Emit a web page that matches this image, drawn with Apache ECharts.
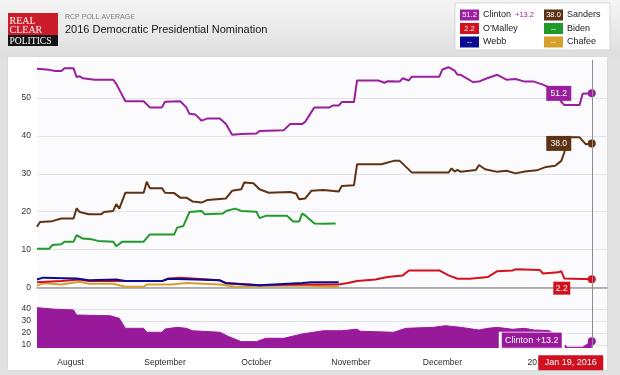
<!DOCTYPE html>
<html>
<head>
<meta charset="utf-8">
<script src="https://cdn.jsdelivr.net/npm/echarts@6/dist/echarts.min.js"></script>
<style>
  html, body { margin: 0; padding: 0; background: #e1e1e1; }
  #wrap { position: relative; width: 620px; height: 375px; overflow: hidden; }
  #head { position: absolute; left: 0; top: 0; width: 620px; height: 57px;
          background: linear-gradient(#f5f5f5, #dedede); }
  #panel { position: absolute; left: 8px; top: 57px; width: 599px; height: 313px;
           background: #fff; box-shadow: 0 0 1px #bbb; }
  #chart { position: absolute; left: 0; top: 0; width: 620px; height: 375px; }
</style>
</head>
<body>
<div id="wrap">
  <div id="head"></div>
  <div id="panel"></div>
  <div id="chart"></div>
</div>
<script>
// RCP poll average
const clinton = [
  ['2015-07-21', 57.7], ['2015-07-25', 57.4], ['2015-07-27', 57.1], ['2015-07-29', 57.1], ['2015-07-30', 57.8],
  ['2015-08-02', 57.8], ['2015-08-03', 55.5], ['2015-08-04', 55.7], ['2015-08-05', 55.2], ['2015-08-09', 54.8],
  ['2015-08-15', 54.8], ['2015-08-16', 53.7], ['2015-08-19', 49.1], ['2015-08-25', 49.1], ['2015-08-27', 47.5],
  ['2015-08-31', 47.5], ['2015-09-01', 49.0], ['2015-09-06', 49.1], ['2015-09-08', 47.5], ['2015-09-09', 45.8],
  ['2015-09-11', 45.6], ['2015-09-13', 44.0], ['2015-09-15', 44.6], ['2015-09-19', 44.6], ['2015-09-21', 43.1],
  ['2015-09-23', 40.3], ['2015-09-26', 40.5], ['2015-10-01', 40.6], ['2015-10-02', 41.3], ['2015-10-10', 41.5],
  ['2015-10-12', 43.1], ['2015-10-16', 43.1], ['2015-10-17', 43.7], ['2015-10-20', 47.5], ['2015-10-25', 47.5],
  ['2015-10-26', 48.0], ['2015-10-28', 48.0], ['2015-10-29', 48.9], ['2015-11-02', 48.9], ['2015-11-03', 54.6],
  ['2015-11-10', 54.6], ['2015-11-12', 54.0], ['2015-11-13', 54.4], ['2015-11-17', 54.3], ['2015-11-18', 55.2],
  ['2015-11-20', 54.6], ['2015-11-21', 55.6], ['2015-11-30', 55.6], ['2015-12-01', 57.5], ['2015-12-03', 58.1],
  ['2015-12-05', 57.2], ['2015-12-06', 56.1], ['2015-12-07', 56.1], ['2015-12-11', 54.2], ['2015-12-13', 54.3],
  ['2015-12-15', 55.0], ['2015-12-19', 56.1], ['2015-12-22', 54.8], ['2015-12-25', 55.0], ['2015-12-28', 54.3],
  ['2015-12-31', 54.3], ['2016-01-03', 53.5], ['2016-01-07', 52.0], ['2016-01-09', 49.0], ['2016-01-10', 48.1],
  ['2016-01-15', 48.1], ['2016-01-16', 51.1], ['2016-01-19', 51.2]
];
const sanders = [
  ['2015-07-21', 16.0], ['2015-07-22', 17.3], ['2015-07-26', 17.5], ['2015-07-29', 18.2], ['2015-08-02', 18.2],
  ['2015-08-03', 20.9], ['2015-08-04', 19.9], ['2015-08-07', 19.3], ['2015-08-11', 19.3], ['2015-08-12', 19.9],
  ['2015-08-15', 20.2], ['2015-08-16', 22.0], ['2015-08-17', 20.8], ['2015-08-19', 25.0], ['2015-08-25', 25.0],
  ['2015-08-26', 27.9], ['2015-08-27', 26.2], ['2015-08-31', 26.2], ['2015-09-01', 25.0], ['2015-09-04', 24.9],
  ['2015-09-06', 23.7], ['2015-09-08', 23.7], ['2015-09-10', 22.7], ['2015-09-13', 22.4], ['2015-09-15', 23.1],
  ['2015-09-21', 23.5], ['2015-09-23', 25.5], ['2015-09-26', 25.9], ['2015-09-27', 27.7], ['2015-09-30', 27.5],
  ['2015-10-02', 25.9], ['2015-10-05', 25.0], ['2015-10-12', 25.2], ['2015-10-14', 24.8], ['2015-10-15', 23.3],
  ['2015-10-17', 23.5], ['2015-10-19', 25.5], ['2015-10-23', 25.7], ['2015-10-28', 25.3], ['2015-10-29', 26.8],
  ['2015-11-02', 27.0], ['2015-11-03', 32.5], ['2015-11-11', 32.5], ['2015-11-15', 33.4], ['2015-11-17', 33.4],
  ['2015-11-21', 30.3], ['2015-12-03', 30.3], ['2015-12-04', 31.4], ['2015-12-05', 30.6], ['2015-12-06', 31.0],
  ['2015-12-07', 30.5], ['2015-12-12', 31.0], ['2015-12-13', 32.3], ['2015-12-15', 31.2], ['2015-12-19', 30.5],
  ['2015-12-22', 30.8], ['2015-12-25', 30.1], ['2015-12-28', 30.6], ['2016-01-01', 30.9], ['2016-01-04', 31.8],
  ['2016-01-07', 32.1], ['2016-01-09', 33.4], ['2016-01-10', 35.6], ['2016-01-11', 39.6], ['2016-01-15', 39.6],
  ['2016-01-17', 37.8], ['2016-01-19', 38.0]
];
const biden = [
  ['2015-07-21', 10.2], ['2015-07-25', 10.2], ['2015-07-26', 11.2], ['2015-07-29', 11.4], ['2015-07-30', 12.1],
  ['2015-08-02', 12.1], ['2015-08-03', 13.8], ['2015-08-05', 12.9], ['2015-08-08', 12.7], ['2015-08-10', 12.3],
  ['2015-08-15', 12.1], ['2015-08-16', 10.9], ['2015-08-18', 12.1], ['2015-08-25', 12.1], ['2015-08-27', 14.0],
  ['2015-09-04', 14.0], ['2015-09-05', 15.8], ['2015-09-07', 16.2], ['2015-09-09', 19.9], ['2015-09-13', 20.2],
  ['2015-09-14', 19.3], ['2015-09-20', 19.5], ['2015-09-21', 20.2], ['2015-09-24', 20.8], ['2015-09-26', 20.2],
  ['2015-10-01', 20.0], ['2015-10-02', 18.3], ['2015-10-04', 18.9], ['2015-10-11', 18.9], ['2015-10-13', 17.4],
  ['2015-10-15', 17.4], ['2015-10-16', 19.5], ['2015-10-17', 19.0], ['2015-10-20', 16.9], ['2015-10-23', 16.8],
  ['2015-10-27', 16.9]
];
const omalley = [
  ['2015-07-21', 1.4], ['2015-07-29', 1.7], ['2015-08-04', 2.1], ['2015-08-07', 1.7], ['2015-08-31', 1.7],
  ['2015-09-02', 2.3], ['2015-09-06', 2.6], ['2015-09-19', 1.9], ['2015-09-21', 1.2], ['2015-10-02', 0.6],
  ['2015-10-16', 0.8], ['2015-10-28', 0.8], ['2015-10-31', 1.2], ['2015-11-03', 1.7], ['2015-11-09', 2.1],
  ['2015-11-13', 2.8], ['2015-11-18', 3.2], ['2015-11-20', 4.5], ['2015-11-30', 4.5], ['2015-12-03', 3.2],
  ['2015-12-06', 2.3], ['2015-12-10', 2.3], ['2015-12-16', 2.8], ['2015-12-19', 4.3], ['2015-12-24', 4.5],
  ['2015-12-25', 4.8], ['2016-01-02', 4.6], ['2016-01-03', 3.7], ['2016-01-08', 4.0], ['2016-01-09', 4.3],
  ['2016-01-10', 2.4], ['2016-01-19', 2.2]
];
const webb = [
  ['2015-07-21', 2.1], ['2015-07-23', 2.6], ['2015-08-03', 2.4], ['2015-08-07', 1.9], ['2015-08-16', 2.1],
  ['2015-08-19', 1.7], ['2015-08-31', 1.7], ['2015-09-02', 2.3], ['2015-09-11', 2.1], ['2015-09-19', 1.9],
  ['2015-09-21', 1.1], ['2015-10-02', 0.6], ['2015-10-16', 1.2], ['2015-10-19', 1.4], ['2015-10-28', 1.4]
];
const chafee = [
  ['2015-07-21', 0.5], ['2015-07-23', 1.1], ['2015-07-29', 0.8], ['2015-08-04', 1.5], ['2015-08-07', 1.0],
  ['2015-08-15', 1.0], ['2015-08-19', 0.2], ['2015-08-25', 0.2], ['2015-08-26', 0.8], ['2015-09-03', 0.8],
  ['2015-09-08', 1.2], ['2015-09-19', 0.8], ['2015-09-24', 0.2], ['2015-10-02', 0.4], ['2015-10-16', 0.5],
  ['2015-10-28', 0.2]
];
// Clinton lead over Sanders (bottom panel)
const spread = [
  ['2015-07-21', 41.1], ['2015-07-26', 40.0], ['2015-08-02', 39.2], ['2015-08-03', 35.0], ['2015-08-14', 34.4],
  ['2015-08-17', 32.2], ['2015-08-19', 23.9], ['2015-08-25', 23.9], ['2015-08-26', 20.6], ['2015-08-31', 20.6],
  ['2015-09-01', 23.3], ['2015-09-05', 24.7], ['2015-09-08', 23.9], ['2015-09-10', 21.9], ['2015-09-19', 20.6],
  ['2015-09-22', 16.9], ['2015-09-26', 12.8], ['2015-10-01', 12.8], ['2015-10-04', 15.6], ['2015-10-10', 15.6],
  ['2015-10-16', 19.2], ['2015-10-23', 21.9], ['2015-10-29', 21.9], ['2015-11-03', 23.2], ['2015-11-04', 21.5],
  ['2015-11-15', 20.6], ['2015-11-19', 23.9], ['2015-11-28', 24.7], ['2015-12-02', 26.1], ['2015-12-07', 24.7],
  ['2015-12-13', 22.5], ['2015-12-16', 23.9], ['2015-12-19', 24.7], ['2015-12-24', 23.1], ['2015-12-28', 23.9],
  ['2015-12-31', 22.5], ['2016-01-05', 22.0], ['2016-01-08', 17.0], ['2016-01-09', 12.5], ['2016-01-11', 8.1],
  ['2016-01-16', 8.1], ['2016-01-19', 13.2]
];
const mainTicks = [0, 10, 20, 30, 40, 50];
const spreadTicks = [10, 20, 30, 40];
const dateLabel = 'Jan 19, 2016';

const C = {
  clinton: '#9a1f9e', sanders: '#5e3313', omalley: '#d3111c',
  biden: '#22992b', webb: '#0b0b92', chafee: '#d6a02e'
};
const AXF = 'Liberation Sans, Arial, sans-serif';
const SERIF = 'Liberation Serif, serif';

const last = arr => arr[arr.length - 1];
// last point gets a dot
function withDot(rows) {
  return rows.map((r, i) => i === rows.length - 1 ? { value: r, symbol: 'circle', symbolSize: 8 } : r);
}
function endTag(rows, color, size, offset) {
  return {
    silent: true,
    symbol: 'rect', symbolSize: size, symbolOffset: offset,
    itemStyle: { color: color },
    label: { show: true, position: 'inside', color: '#fff', fontSize: 8.5, fontFamily: AXF,
             formatter: p => p.value },
    data: [{ coord: last(rows), value: last(rows)[1].toFixed(1) }]
  };
}
const cursorLine = {
  silent: true, symbol: ['none', 'none'], label: { show: false },
  lineStyle: { color: '#8e8e8e', width: 1, type: 'solid' },
  data: [{ xAxis: last(clinton)[0] }]
};

function lineSeries(name, rows, color, extra) {
  return Object.assign({
    name: name, type: 'line', xAxisIndex: 0, yAxisIndex: 0,
    data: rows, symbol: 'none', color: color,
    lineStyle: { width: 2, color: color }, itemStyle: { color: color },
    emphasis: { disabled: true }
  }, extra || {});
}

// legend (drawn by hand: swatches carry the latest values)
const legendRows = [
  [{ n: 'Clinton', c: C.clinton, v: last(clinton)[1].toFixed(1), x: '+' + last(spread)[1].toFixed(1) },
   { n: 'Sanders', c: C.sanders, v: last(sanders)[1].toFixed(1) }],
  [{ n: "O'Malley", c: C.omalley, v: last(omalley)[1].toFixed(1) },
   { n: 'Biden', c: C.biden, v: '--' }],
  [{ n: 'Webb', c: C.webb, v: '--' },
   { n: 'Chafee', c: C.chafee, v: '--' }]
];
const legendEls = [{ type: 'rect', shape: { x: 455, y: 3, width: 155, height: 47 },
  style: { fill: '#fff', stroke: '#d6d6d6', lineWidth: 1 } }];
const colX = [460, 544];
const rowY = [15, 28.5, 42];
legendRows.forEach((row, r) => {
  row.forEach((it, k) => {
    const x = colX[k], y = rowY[r];
    legendEls.push({ type: 'rect', shape: { x: x, y: y - 5.5, width: 19, height: 11 }, style: { fill: it.c } });
    legendEls.push({ type: 'text', style: { text: it.v, x: x + 9.5, y: y, fill: '#fff', fontSize: 7.5,
      fontFamily: AXF, align: 'center', verticalAlign: 'middle' } });
    legendEls.push({ type: 'text', style: { text: it.n, x: x + 23, y: y, fill: '#222', fontSize: 9,
      fontFamily: AXF, verticalAlign: 'middle' } });
    if (it.x) {
      legendEls.push({ type: 'text', style: { text: it.x, x: x + 55, y: y, fill: C.clinton, fontSize: 7.5,
        fontFamily: AXF, verticalAlign: 'middle' } });
    }
  });
});

const headerEls = [
  { type: 'rect', shape: { x: 8, y: 13, width: 50, height: 22 }, style: { fill: '#cc1b2b' } },
  { type: 'rect', shape: { x: 8, y: 35, width: 50, height: 11 }, style: { fill: '#141414' } },
  { type: 'text', style: { text: 'REAL', x: 9.5, y: 21.5, fill: '#fff', fontSize: 10,
      fontFamily: SERIF, verticalAlign: 'middle' } },
  { type: 'text', style: { text: 'CLEAR', x: 9.5, y: 30.5, fill: '#fff', fontSize: 10,
      fontFamily: SERIF, verticalAlign: 'middle' } },
  { type: 'text', style: { text: 'POLITICS', x: 9.5, y: 41, fill: '#fff', fontSize: 9.6,
      fontFamily: SERIF, verticalAlign: 'middle' } },
  { type: 'text', style: { text: 'RCP POLL AVERAGE', x: 65, y: 17, fill: '#808080', fontSize: 7,
      fontFamily: AXF, verticalAlign: 'middle' } },
  { type: 'text', style: { text: '2016 Democratic Presidential Nomination', x: 65, y: 30, fill: '#151515',
      fontSize: 11, fontFamily: AXF, verticalAlign: 'middle' } }
];

const xMin = '2015-07-21', xMax = '2016-01-24';
const plotBg = '#fbfbfd';

let myChart = echarts.init(document.getElementById('chart'));
let option = {
  animation: false,
  backgroundColor: 'transparent',
  graphic: headerEls.concat(legendEls),
  grid: [
    { left: 37, right: 13, top: 60, height: 237, show: true, backgroundColor: plotBg, borderWidth: 0 },
    { left: 37, right: 13, top: 297, height: 51, show: true, backgroundColor: plotBg, borderWidth: 0 }
  ],
  xAxis: [
    { type: 'time', gridIndex: 0, min: xMin, max: xMax,
      axisLabel: { show: false }, axisTick: { show: false }, splitLine: { show: false },
      axisLine: { show: true, lineStyle: { color: '#9c9c9c', width: 1.5 } } },
    { type: 'time', gridIndex: 1, min: xMin, max: xMax, splitNumber: 6,
      axisLine: { show: false }, axisTick: { show: false }, splitLine: { show: false },
      axisLabel: { color: '#2b2b2b', fontSize: 8.5, fontFamily: AXF, margin: 10,
        formatter: { year: '{yyyy}', month: '{MMMM}', day: '{d}' } } }
  ],
  yAxis: [
    { type: 'value', gridIndex: 0, min: -2.5, max: 60,
      axisLine: { show: false }, axisTick: { show: false, customValues: mainTicks },
      axisLabel: { customValues: mainTicks, color: '#333', fontSize: 8.5, fontFamily: AXF, margin: 6 },
      splitLine: { show: true, lineStyle: { color: '#e3e3e8', width: 1 } } },
    { type: 'value', gridIndex: 1, min: 7.5, max: 50,
      axisLine: { show: false }, axisTick: { show: false, customValues: spreadTicks },
      axisLabel: { customValues: spreadTicks, color: '#333', fontSize: 8.5, fontFamily: AXF, margin: 6 },
      splitLine: { show: true, lineStyle: { color: '#e3e3e8', width: 1 } } }
  ],
  series: [
    lineSeries('Chafee', chafee, C.chafee),
    lineSeries("O'Malley", withDot(omalley), C.omalley, {
      markPoint: endTag(omalley, C.omalley, [17, 13], [-30, 9]) }),
    lineSeries('Webb', webb, C.webb),
    lineSeries('Biden', biden, C.biden),
    lineSeries('Sanders', withDot(sanders), C.sanders, {
      markPoint: endTag(sanders, C.sanders, [25, 15], [-33, 0]) }),
    lineSeries('Clinton', withDot(clinton), C.clinton, {
      markPoint: endTag(clinton, C.clinton, [25, 15], [-33, 0]),
      markLine: cursorLine }),
    {
      name: 'Clinton +', type: 'line', xAxisIndex: 1, yAxisIndex: 1,
      data: withDot(spread), symbol: 'none', color: '#99199b',
      lineStyle: { width: 1, color: '#99199b' }, itemStyle: { color: '#99199b' },
      areaStyle: { color: '#99199b', opacity: 1, origin: 'start' },
      emphasis: { disabled: true },
      markLine: cursorLine,
      markPoint: {
        silent: true,
        data: [
          { coord: last(spread), value: 'Clinton +' + last(spread)[1].toFixed(1),
            symbol: 'rect', symbolSize: [63, 16], symbolOffset: [-60, -1],
            itemStyle: { color: '#99199b', borderColor: '#fff', borderWidth: 1.5 },
            label: { show: true, position: 'inside', color: '#fff', fontSize: 9, fontFamily: AXF,
                     formatter: p => p.value } },
          { coord: last(spread), value: dateLabel,
            symbol: 'rect', symbolSize: [65, 15], symbolOffset: [-21, 21.5],
            itemStyle: { color: '#d0101f' },
            label: { show: true, position: 'inside', color: '#fff', fontSize: 9, fontFamily: AXF,
                     formatter: p => p.value } }
        ]
      }
    }
  ]
};
myChart.setOption(option);
window.addEventListener('resize', function () {
  myChart.resize();
}, false);
</script>
</body>
</html>
